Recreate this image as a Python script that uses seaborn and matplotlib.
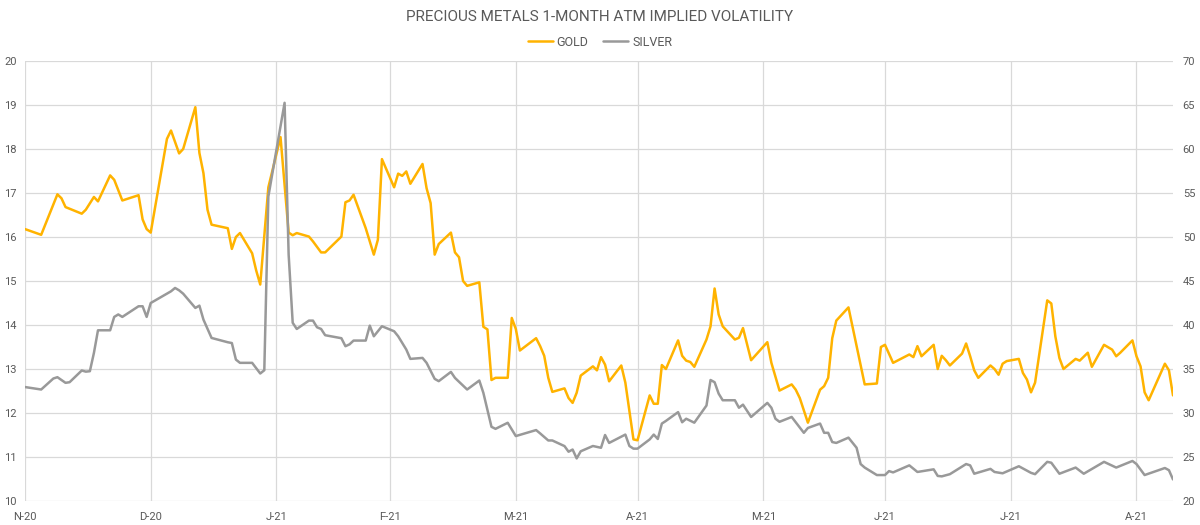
import matplotlib.pyplot as plt
import seaborn as sns
import pandas as pd

# 1-month ATM implied vol
gold_dates = [
    "2020-11-30", "2020-12-04", "2020-12-08", "2020-12-09", "2020-12-10", "2020-12-14", "2020-12-15",
    "2020-12-17", "2020-12-18", "2020-12-21", "2020-12-22", "2020-12-24", "2020-12-28", "2020-12-29",
    "2020-12-30", "2020-12-31", "2021-01-04", "2021-01-05", "2021-01-07", "2021-01-08", "2021-01-11",
    "2021-01-12", "2021-01-13", "2021-01-14", "2021-01-15", "2021-01-19", "2021-01-20", "2021-01-21",
    "2021-01-22", "2021-01-25", "2021-01-26", "2021-01-27", "2021-01-29", "2021-02-01", "2021-02-03",
    "2021-02-04", "2021-02-05", "2021-02-08", "2021-02-09", "2021-02-11", "2021-02-12", "2021-02-16",
    "2021-02-17", "2021-02-18", "2021-02-19", "2021-02-22", "2021-02-24", "2021-02-25", "2021-02-26",
    "2021-03-01", "2021-03-02", "2021-03-03", "2021-03-04", "2021-03-05", "2021-03-08", "2021-03-09",
    "2021-03-10", "2021-03-11", "2021-03-12", "2021-03-15", "2021-03-16", "2021-03-17", "2021-03-18",
    "2021-03-19", "2021-03-22", "2021-03-23", "2021-03-24", "2021-03-25", "2021-03-26", "2021-03-29",
    "2021-03-30", "2021-03-31", "2021-04-01", "2021-04-05", "2021-04-06", "2021-04-07", "2021-04-08",
    "2021-04-09", "2021-04-12", "2021-04-13", "2021-04-14", "2021-04-15", "2021-04-16", "2021-04-19",
    "2021-04-20", "2021-04-21", "2021-04-22", "2021-04-23", "2021-04-26", "2021-04-27", "2021-04-29",
    "2021-04-30", "2021-05-03", "2021-05-04", "2021-05-05", "2021-05-06", "2021-05-07", "2021-05-10",
    "2021-05-11", "2021-05-12", "2021-05-13", "2021-05-14", "2021-05-17", "2021-05-18", "2021-05-19",
    "2021-05-20", "2021-05-21", "2021-05-24", "2021-05-25", "2021-05-26", "2021-05-28", "2021-06-01",
    "2021-06-02", "2021-06-04", "2021-06-07", "2021-06-08", "2021-06-09", "2021-06-11", "2021-06-14",
    "2021-06-15", "2021-06-16", "2021-06-17", "2021-06-18", "2021-06-21", "2021-06-23", "2021-06-25",
    "2021-06-28", "2021-06-29", "2021-06-30", "2021-07-02", "2021-07-06", "2021-07-07", "2021-07-08",
    "2021-07-09", "2021-07-12", "2021-07-13", "2021-07-14", "2021-07-15", "2021-07-16", "2021-07-19",
    "2021-07-20", "2021-07-21", "2021-07-22", "2021-07-23", "2021-07-26", "2021-07-27", "2021-07-28",
    "2021-07-29", "2021-07-30", "2021-08-02", "2021-08-03", "2021-08-04", "2021-08-05", "2021-08-06",
    "2021-08-09", "2021-08-10", "2021-08-11", "2021-08-12", "2021-08-13", "2021-08-16", "2021-08-17",
    "2021-08-19", "2021-08-20", "2021-08-23", "2021-08-25", "2021-08-26", "2021-08-27", "2021-08-30",
    "2021-08-31", "2021-09-01", "2021-09-02", "2021-09-03", "2021-09-07", "2021-09-08", "2021-09-09",
]
gold_vol = [
    16.18, 16.05, 16.97, 16.88, 16.68, 16.53, 16.62,
    16.91, 16.81, 17.40, 17.30, 16.83, 16.95, 16.40,
    16.18, 16.10, 18.23, 18.42, 17.90, 18.00, 18.95,
    17.91, 17.45, 16.62, 16.28, 16.20, 15.73, 16.00,
    16.09, 15.63, 15.24, 14.92, 17.13, 18.27, 16.10,
    16.04, 16.09, 16.01, 15.90, 15.65, 15.65, 16.01,
    16.79, 16.83, 16.96, 16.20, 15.60, 15.94, 17.77,
    17.13, 17.44, 17.39, 17.49, 17.21, 17.66, 17.11,
    16.77, 15.60, 15.84, 16.10, 15.65, 15.54, 15.00,
    14.89, 14.97, 13.96, 13.90, 12.75, 12.80, 12.80,
    14.16, 13.91, 13.42, 13.70, 13.52, 13.30, 12.80,
    12.48, 12.56, 12.34, 12.23, 12.46, 12.85, 13.06,
    12.97, 13.27, 13.10, 12.72, 13.08, 12.69, 11.40,
    11.38, 12.40, 12.21, 12.21, 13.09, 13.00, 13.65,
    13.30, 13.19, 13.16, 13.05, 13.67, 13.97, 14.83,
    14.24, 13.97, 13.67, 13.71, 13.93, 13.20, 13.61,
    13.14, 12.51, 12.65, 12.53, 12.34, 11.78, 12.53,
    12.61, 12.80, 13.70, 14.10, 14.40, 13.52, 12.65,
    12.67, 13.50, 13.55, 13.14, 13.33, 13.27, 13.52,
    13.29, 13.55, 13.00, 13.30, 13.20, 13.08, 13.35,
    13.58, 13.29, 12.97, 12.80, 13.08, 13.00, 12.87,
    13.12, 13.18, 13.23, 12.91, 12.76, 12.47, 12.69,
    14.56, 14.49, 13.74, 13.25, 13.00, 13.23, 13.19,
    13.37, 13.05, 13.55, 13.44, 13.29, 13.37, 13.65,
    13.29, 13.06, 12.47, 12.29, 13.12, 12.97, 12.40,
]

silver_dates = [
    "2020-11-30", "2020-12-04", "2020-12-07", "2020-12-08", "2020-12-10", "2020-12-11", "2020-12-14",
    "2020-12-15", "2020-12-16", "2020-12-17", "2020-12-18", "2020-12-21", "2020-12-22", "2020-12-23",
    "2020-12-24", "2020-12-28", "2020-12-29", "2020-12-30", "2020-12-31", "2021-01-04", "2021-01-05",
    "2021-01-06", "2021-01-07", "2021-01-08", "2021-01-11", "2021-01-12", "2021-01-13", "2021-01-15",
    "2021-01-19", "2021-01-20", "2021-01-21", "2021-01-22", "2021-01-25", "2021-01-27", "2021-01-28",
    "2021-01-29", "2021-02-02", "2021-02-03", "2021-02-04", "2021-02-05", "2021-02-08", "2021-02-09",
    "2021-02-10", "2021-02-11", "2021-02-12", "2021-02-16", "2021-02-17", "2021-02-18", "2021-02-19",
    "2021-02-22", "2021-02-23", "2021-02-24", "2021-02-26", "2021-03-01", "2021-03-02", "2021-03-03",
    "2021-03-04", "2021-03-05", "2021-03-08", "2021-03-09", "2021-03-11", "2021-03-12", "2021-03-15",
    "2021-03-16", "2021-03-19", "2021-03-22", "2021-03-23", "2021-03-25", "2021-03-26", "2021-03-29",
    "2021-03-31", "2021-04-05", "2021-04-06", "2021-04-08", "2021-04-09", "2021-04-12", "2021-04-13",
    "2021-04-14", "2021-04-15", "2021-04-16", "2021-04-19", "2021-04-21", "2021-04-22", "2021-04-23",
    "2021-04-27", "2021-04-28", "2021-04-29", "2021-04-30", "2021-05-03", "2021-05-04", "2021-05-05",
    "2021-05-06", "2021-05-07", "2021-05-10", "2021-05-11", "2021-05-12", "2021-05-14", "2021-05-17",
    "2021-05-18", "2021-05-19", "2021-05-20", "2021-05-21", "2021-05-24", "2021-05-25", "2021-05-26",
    "2021-05-28", "2021-06-01", "2021-06-02", "2021-06-03", "2021-06-04", "2021-06-07", "2021-06-08",
    "2021-06-10", "2021-06-11", "2021-06-14", "2021-06-15", "2021-06-16", "2021-06-17", "2021-06-18",
    "2021-06-21", "2021-06-23", "2021-06-24", "2021-06-25", "2021-06-28", "2021-06-30", "2021-07-01",
    "2021-07-02", "2021-07-06", "2021-07-08", "2021-07-12", "2021-07-13", "2021-07-14", "2021-07-16",
    "2021-07-20", "2021-07-21", "2021-07-22", "2021-07-26", "2021-07-27", "2021-07-29", "2021-08-02",
    "2021-08-05", "2021-08-06", "2021-08-09", "2021-08-10", "2021-08-12", "2021-08-16", "2021-08-18",
    "2021-08-23", "2021-08-26", "2021-08-30", "2021-08-31", "2021-09-02", "2021-09-07", "2021-09-08",
    "2021-09-09",
]
silver_vol = [
    32.95, 32.67, 33.92, 34.07, 33.43, 33.50, 34.83,
    34.70, 34.75, 36.83, 39.40, 39.40, 40.92, 41.20,
    40.92, 42.13, 42.13, 40.92, 42.50, 43.56, 43.83,
    44.21, 43.94, 43.56, 41.94, 42.20, 40.61, 38.53,
    38.04, 37.95, 36.07, 35.70, 35.70, 34.49, 34.86,
    54.60, 65.25, 48.00, 40.25, 39.55, 40.50, 40.50,
    39.74, 39.55, 38.84, 38.50, 37.59, 37.80, 38.23,
    38.23, 39.93, 38.72, 39.86, 39.29, 38.72, 37.97,
    37.21, 36.15, 36.26, 35.70, 33.88, 33.62, 34.67,
    33.99, 32.67, 33.69, 32.29, 28.43, 28.20, 28.89,
    27.38, 28.06, 27.68, 26.88, 26.88, 26.24, 25.60,
    25.85, 24.84, 25.65, 26.25, 26.05, 27.50, 26.60,
    27.55, 26.25, 25.95, 25.95, 27.00, 27.55, 27.05,
    28.80, 29.10, 30.10, 28.95, 29.35, 28.90, 30.85,
    33.75, 33.50, 32.20, 31.45, 31.45, 30.60, 30.95,
    29.55, 31.15, 30.60, 29.35, 29.00, 29.55, 28.95,
    27.75, 28.30, 28.80, 27.75, 27.75, 26.70, 26.60,
    27.20, 26.05, 24.20, 23.80, 22.95, 22.95, 23.40,
    23.25, 24.05, 23.30, 23.60, 22.85, 22.80, 23.05,
    24.20, 24.05, 23.10, 23.65, 23.30, 23.15, 23.95,
    23.20, 23.05, 24.45, 24.35, 23.10, 23.80, 23.10,
    24.45, 23.80, 24.55, 24.20, 22.95, 23.75, 23.50,
    22.45,
]

month_ticks = ["2020-11-30", "2020-12-31", "2021-01-31", "2021-02-28", "2021-03-31",
               "2021-04-30", "2021-05-31", "2021-06-30", "2021-07-31", "2021-08-31"]
month_labels = ["N-20", "D-20", "J-21", "F-21", "M-21", "A-21", "M-21", "J-21", "J-21", "A-21"]

GOLD = "#FFB300"
SILVER = "#999999"
GRID = "#D9D9D9"
TEXT = "#595959"


def main():
    sns.set_theme(style="white")
    plt.rcParams["font.family"] = ["Roboto", "DejaVu Sans"]

    gold = pd.DataFrame({"Date": pd.to_datetime(gold_dates), "Vol": gold_vol})
    silver = pd.DataFrame({"Date": pd.to_datetime(silver_dates), "Vol": silver_vol})

    fig, ax = plt.subplots(figsize=(12, 5.25), dpi=100)
    fig.subplots_adjust(left=0.0208, right=0.9775, top=0.8838, bottom=0.0457)
    ax2 = ax.twinx()

    sns.lineplot(data=gold, x="Date", y="Vol", ax=ax, color=GOLD, linewidth=1.8, label="GOLD", legend=False)
    sns.lineplot(data=silver, x="Date", y="Vol", ax=ax2, color=SILVER, linewidth=1.8, label="SILVER", legend=False)

    ax.set_xlim(pd.Timestamp("2020-11-30"), pd.Timestamp("2021-09-09"))
    ax.set_ylim(10, 20)
    ax2.set_ylim(20, 70)
    ax.set_yticks(range(10, 21))
    ax2.set_yticks(range(20, 71, 5))
    ax.set_xticks(pd.to_datetime(month_ticks))
    ax.set_xticklabels(month_labels)

    ax.grid(True, color=GRID, linewidth=0.9)
    ax2.grid(False)
    for a in (ax, ax2):
        a.set(xlabel=None, ylabel=None)
        for s in a.spines.values():
            s.set_visible(False)

    ax.tick_params(axis="x", length=3, width=0.9, color=GRID, pad=5, labelsize=8, labelcolor=TEXT)
    ax.tick_params(axis="y", length=0, pad=6, labelsize=8, labelcolor=TEXT)
    ax2.tick_params(axis="y", length=0, pad=7, labelsize=8, labelcolor=TEXT)

    handles = ax.get_lines()[:1] + ax2.get_lines()[:1]
    fig.legend(handles, ["GOLD", "SILVER"], loc="center", bbox_to_anchor=(0.5, 0.92), ncol=2,
               frameon=False, fontsize=9, labelcolor=TEXT, handlelength=2.0,
               handletextpad=0.3, columnspacing=1.2)
    fig.suptitle("PRECIOUS METALS 1-MONTH ATM IMPLIED VOLATILITY", y=0.968, va="center",
                 fontsize=11, color=TEXT)

    fig.savefig("out.png", dpi=100)


if __name__ == "__main__":
    main()
